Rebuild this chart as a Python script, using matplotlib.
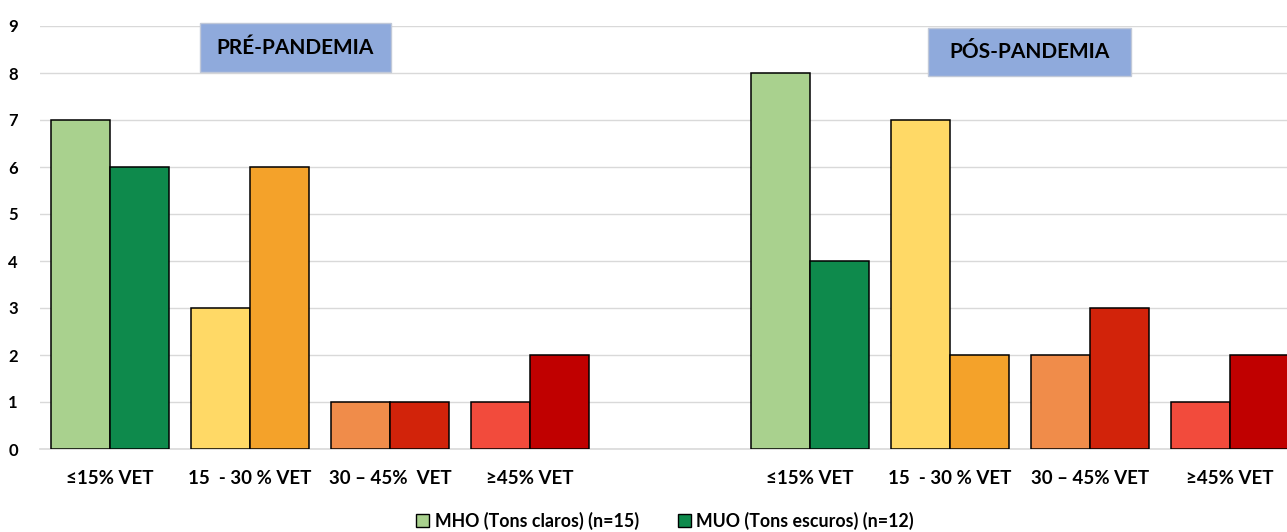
import matplotlib
matplotlib.use("Agg")
import matplotlib.pyplot as plt
from matplotlib.patches import Patch, Rectangle
import numpy as np

plt.rcParams["font.family"] = ["Lato", "DejaVu Sans"]

W, H = 1287, 532

# nine category slots: four pre-pandemic, one empty spacer, four post-pandemic
categories = ["≤15% VET", "15  - 30 % VET", "30 – 45%  VET", "≥45% VET", "",
              "≤15% VET", "15  - 30 % VET", "30 – 45% VET", "≥45% VET"]
mho = [7, 3, 1, 1, np.nan, 8, 7, 2, 1]
muo = [6, 6, 1, 2, np.nan, 4, 2, 3, 2]

light_colors = ["#a9d18e", "#ffd966", "#f08c4a", "#f24b3c", "none",
                "#a9d18e", "#ffd966", "#f08c4a", "#f24b3c"]
dark_colors = ["#0e8a4c", "#f4a22a", "#d2230a", "#c00000", "none",
               "#0e8a4c", "#f4a22a", "#d2230a", "#c00000"]

fig = plt.figure(figsize=(W / 100, H / 100), dpi=100)
ax = fig.add_axes([40 / W, 83 / H, 1260 / W, 423 / H])

x = np.arange(len(categories))
w = 0.42
ax.bar(x - w / 2, mho, w, color=light_colors, edgecolor="black", linewidth=1.1, zorder=3)
ax.bar(x + w / 2, muo, w, color=dark_colors, edgecolor="black", linewidth=1.1, zorder=3)

ax.set_xlim(-0.5, 8.5)
ax.set_ylim(0, 9)
ax.set_yticks(range(0, 10))
ax.set_xticks(x)
ax.set_xticklabels(categories, fontsize=13.5, fontweight="bold")
ax.tick_params(axis="x", length=0, pad=15)
ax.tick_params(axis="y", length=0, pad=16)
for lbl in ax.get_yticklabels():
    lbl.set_fontweight("bold")
    lbl.set_fontsize(12)

ax.grid(axis="y", color="#d9d9d9", linewidth=1.0, zorder=0)
for side in ["top", "right", "left"]:
    ax.spines[side].set_visible(False)
ax.spines["bottom"].set_color("#d9d9d9")
ax.spines["bottom"].set_linewidth(1.2)


def header(x0, y0, x1, y1, text):
    # box given in pixel coords measured from the top-left corner
    fig.add_artist(Rectangle((x0 / W, 1 - y1 / H), (x1 - x0) / W, (y1 - y0) / H,
                             transform=fig.transFigure, facecolor="#8faadc",
                             edgecolor="#c0c8d8", linewidth=1, zorder=5))
    fig.text((x0 + x1) / 2 / W, 1 - (y0 + y1) / 2 / H, text, ha="center", va="center",
             fontsize=15, fontweight="bold", zorder=6)


header(200, 23, 391, 72, "PRÉ-PANDEMIA")
header(928, 28, 1131, 76, "PÓS-PANDEMIA")

handles = [Patch(facecolor="#a9d18e", edgecolor="black", label="MHO (Tons claros) (n=15)"),
           Patch(facecolor="#0e8a4c", edgecolor="black", label="MUO (Tons escuros) (n=12)")]
fig.legend(handles=handles, loc="center", bbox_to_anchor=(665 / W, 1 - 521 / H),
           ncol=2, frameon=False, prop={"weight": "bold", "size": 12.8},
           handlelength=0.75, handleheight=0.75, handletextpad=0.3, columnspacing=2.2)

fig.savefig("out.png", dpi=100)
